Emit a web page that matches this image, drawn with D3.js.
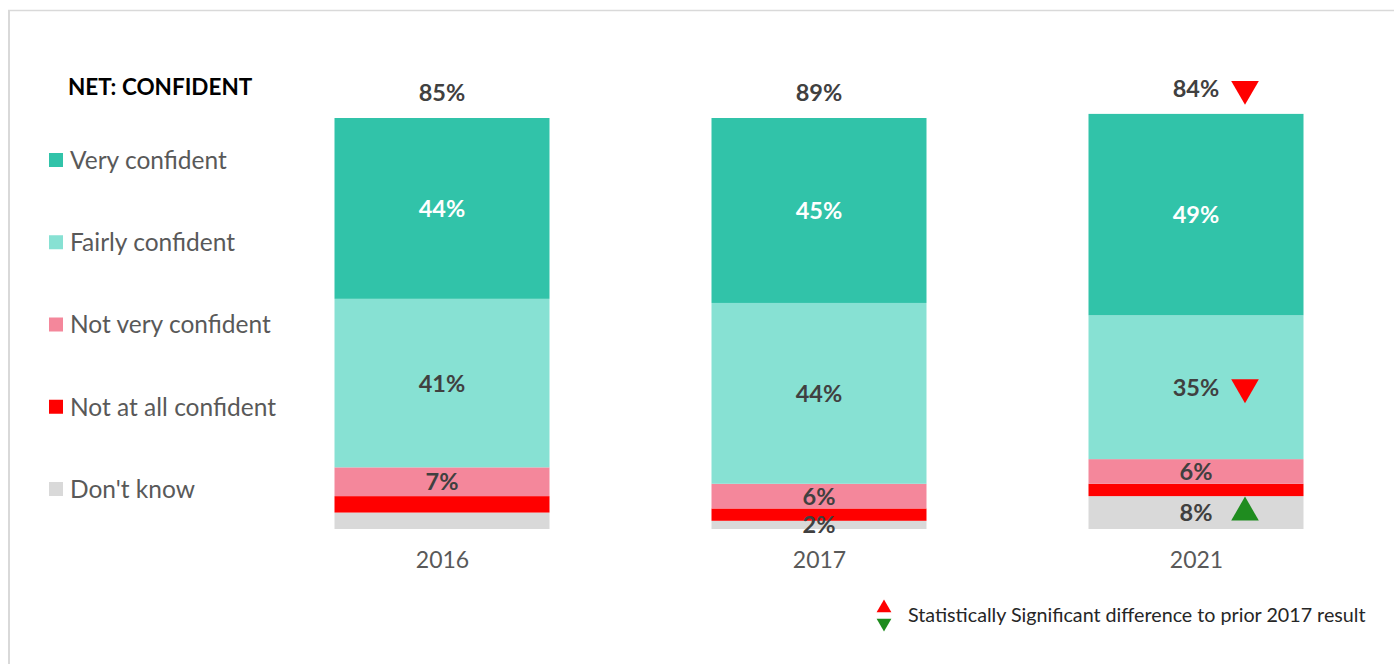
<!DOCTYPE html>
<html>
<head>
<meta charset="utf-8">
<script src="https://cdn.jsdelivr.net/npm/d3@7"></script>
<style>
  html, body { margin: 0; padding: 0; background: #fff; }
  svg { display: block; font-family: Lato, "Open Sans", sans-serif; }
</style>
</head>
<body>
<svg id="chart" width="1394" height="664"></svg>
<script>
// Survey years
const years = ["2016", "2017", "2021"];
// Response categories (bottom of stack listed last)
const categories = ["Very confident", "Fairly confident", "Not very confident", "Not at all confident", "Don't know"];
const colors = ["#31c3a9", "#87e1d3", "#f4879b", "#ff0000", "#d9d9d9"];
// Share of respondents per year, %
const veryConfident   = [44, 45, 49];
const fairlyConfident = [41, 44, 35];
const notVery         = [7, 6, 6];
const notAtAll        = [4, 3, 3];
const dontKnow        = [4, 2, 8];
const netConfident    = [85, 89, 84];
// Segment values that carry a printed label
const showLabel = [
  [true, true, true],
  [true, true, true],
  [true, true, true],
  [false, false, false],
  [false, true, true]
];
// Significance markers vs prior 2017 result: [year, category ("net" for total), direction]
const sigMarks = [
  ["2021", "net", "down"],
  ["2021", "Fairly confident", "down"],
  ["2021", "Don't know", "up"]
];

const series = [veryConfident, fairlyConfident, notVery, notAtAll, dontKnow];

const svg = d3.select("#chart");

// frame lines
svg.append("line").attr("x1", 9).attr("x2", 9).attr("y1", 10).attr("y2", 664)
  .attr("stroke", "#d9d9d9").attr("stroke-width", 2);
svg.append("line").attr("x1", 8).attr("x2", 1394).attr("y1", 10.5).attr("y2", 10.5)
  .attr("stroke", "#d9d9d9").attr("stroke-width", 1.5);

const x = d3.scalePoint().domain(years).range([442, 1196]);
const barW = 215;
const y = d3.scaleLinear().domain([0, 100]).range([529, 118]);

// build stacks from the bottom up
const stacked = years.map((yr, i) => {
  let acc = 0;
  const segs = [];
  for (let k = categories.length - 1; k >= 0; k--) {
    const v = series[k][i];
    segs.push({ year: yr, cat: categories[k], k, v, y0: acc, y1: acc + v, i });
    acc += v;
  }
  return { year: yr, segs, total: acc, i };
});

const g = svg.append("g");

stacked.forEach(col => {
  g.selectAll(null).data(col.segs).enter().append("rect")
    .attr("x", d => x(d.year) - barW / 2)
    .attr("width", barW)
    .attr("y", d => y(d.y1))
    .attr("height", d => y(d.y0) - y(d.y1))
    .attr("fill", d => colors[d.k]);

  g.selectAll(null).data(col.segs.filter(d => showLabel[d.k][d.i])).enter().append("text")
    .attr("x", d => x(d.year))
    .attr("y", d => (y(d.y0) + y(d.y1)) / 2)
    .attr("dy", "0.36em")
    .attr("text-anchor", "middle")
    .attr("font-size", 23.5)
    .attr("font-weight", 700)
    .attr("fill", d => d.k === 0 ? "#ffffff" : "#404040")
    .text(d => d.v + "%");

  // NET total above bar
  g.append("text")
    .attr("x", x(col.year))
    .attr("y", y(col.total) - 25)
    .attr("dy", "0.36em")
    .attr("text-anchor", "middle")
    .attr("font-size", 23.5)
    .attr("font-weight", 700)
    .attr("fill", "#404040")
    .text(netConfident[col.i] + "%");
});

// significance triangles
const tri = d3.symbol().type(d3.symbolTriangle).size(330);
sigMarks.forEach(([yr, cat, dir]) => {
  const col = stacked.find(c => c.year === yr);
  let cy;
  if (cat === "net") cy = y(col.total) - 25;
  else {
    const s = col.segs.find(d => d.cat === cat);
    cy = (y(s.y0) + y(s.y1)) / 2;
  }
  svg.append("path")
    .attr("d", tri)
    .attr("transform", `translate(${x(yr) + 49},${cy}) rotate(${dir === "down" ? 180 : 0})`)
    .attr("fill", dir === "down" ? "#ff0000" : "#1f8c1f");
});

// x axis (year labels)
const xAxis = svg.append("g")
  .attr("transform", "translate(0,529)")
  .call(d3.axisBottom(x).tickSize(0).tickPadding(23));
xAxis.select(".domain").remove();
xAxis.selectAll("text")
  .attr("font-size", 23)
  .attr("font-family", "Lato, 'Open Sans', sans-serif")
  .attr("fill", "#595959");

// legend
svg.append("text")
  .attr("x", 68).attr("y", 87).attr("dy", "0.36em")
  .attr("font-size", 22.5).attr("font-weight", 700).attr("fill", "#000")
  .text("NET: CONFIDENT");

const legendY = d3.scalePoint().domain(categories).range([160, 489]);
const leg = svg.append("g").selectAll("g").data(categories).enter().append("g")
  .attr("transform", d => `translate(49,${legendY(d)})`);
leg.append("rect").attr("x", 0).attr("y", -7).attr("width", 14).attr("height", 14)
  .attr("fill", (d, i) => colors[i]);
leg.append("text").attr("x", 21).attr("dy", "0.36em")
  .attr("font-size", 24.5).attr("fill", "#595959").text(d => d);

// footnote
const fn = svg.append("g").attr("transform", "translate(884,615)");
fn.append("path").attr("d", d3.symbol().type(d3.symbolTriangle).size(95))
  .attr("transform", "translate(0,-7)").attr("fill", "#ff0000");
fn.append("path").attr("d", d3.symbol().type(d3.symbolTriangle).size(95))
  .attr("transform", "translate(0,8) rotate(180)").attr("fill", "#1f8c1f");
fn.append("text").attr("x", 24).attr("dy", "0.36em")
  .attr("font-size", 19.7).attr("fill", "#262626")
  .text("Statistically Significant difference to prior 2017 result");
</script>
</body>
</html>
